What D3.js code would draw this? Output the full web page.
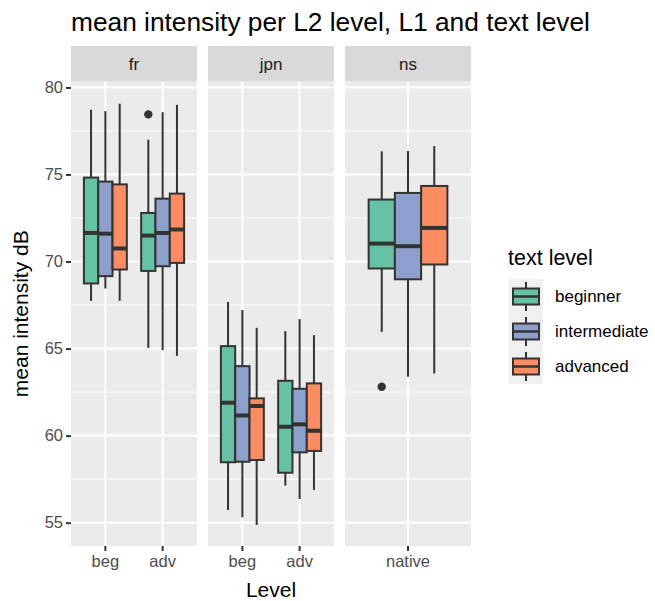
<!DOCTYPE html>
<html>
<head>
<meta charset="utf-8">
<script src="https://cdn.jsdelivr.net/npm/d3@7"></script>
<style>
  html, body { margin: 0; padding: 0; background: #ffffff; }
  svg { display: block; font-family: "Liberation Sans", Arial, sans-serif; }
</style>
</head>
<body>
<svg id="chart" width="655" height="601"></svg>
<script>
// Facets (L1) and the L2 levels shown inside each of them
const facets = ["fr", "jpn", "ns"];
const facetLevels = [["beg", "adv"], ["beg", "adv"], ["native"]];

// Text levels (fill groups) and their colours
const textLevels = ["beginner", "intermediate", "advanced"];
const textColours = ["#66C2A5", "#8DA0CB", "#FC8D62"];

// Box statistics: [L2 level, text level, lower whisker, Q1, median, Q3, upper whisker]
const statsFr = [
  ["beg", "beginner",     67.74, 68.74, 71.64, 74.82, 78.72],
  ["beg", "intermediate", 68.45, 69.16, 71.60, 74.59, 78.64],
  ["beg", "advanced",     67.74, 69.54, 70.75, 74.43, 79.06],
  ["adv", "beginner",     65.04, 69.46, 71.49, 72.79, 77.00],
  ["adv", "intermediate", 64.91, 69.73, 71.64, 73.61, 78.58],
  ["adv", "advanced",     64.58, 69.92, 71.84, 73.90, 79.00]
];
const statsJpn = [
  ["beg", "beginner",     55.73, 58.47, 61.89, 65.14, 67.68],
  ["beg", "intermediate", 55.31, 58.50, 61.16, 63.99, 67.21],
  ["beg", "advanced",     54.87, 58.60, 61.70, 62.14, 66.19],
  ["adv", "beginner",     57.13, 57.87, 60.51, 63.15, 66.00],
  ["adv", "intermediate", 56.36, 59.04, 60.65, 62.69, 66.69],
  ["adv", "advanced",     56.88, 59.12, 60.28, 63.00, 65.77]
];
const statsNs = [
  ["native", "beginner",     65.96, 69.60, 71.03, 73.56, 76.33],
  ["native", "intermediate", 63.38, 68.98, 70.88, 73.94, 76.35],
  ["native", "advanced",     63.57, 69.83, 71.93, 74.34, 76.63]
];
const facetStats = [statsFr, statsJpn, statsNs];

// Outliers: [facet, L2 level, text level, value]
const outliers = [
  ["fr", "adv", "beginner", 78.45],
  ["ns", "native", "beginner", 62.81]
];

// Y axis ticks
const yTicks = [55, 60, 65, 70, 75, 80];
const yMinorTicks = [57.5, 62.5, 67.5, 72.5, 77.5];

const titleText = "mean intensity per L2 level, L1 and text level";
const yTitle = "mean intensity dB";
const xTitle = "Level";
const legendTitle = "text level";

// ---- layout ----
const svg = d3.select("#chart");
const plotLeft = 71, plotRight = 471;
const panelTop = 81.5, panelBottom = 546;
const stripTop = 46;
const panelGap = 11;
const panelW = (plotRight - plotLeft - panelGap * (facets.length - 1)) / facets.length;

const y = d3.scaleLinear().domain([53.66, 80.34]).range([panelBottom, panelTop]);
const fill = d3.scaleOrdinal().domain(textLevels).range(textColours);

const ink = "#333333";

// Title
svg.append("text")
  .attr("x", plotLeft).attr("y", 31)
  .attr("font-size", 26.3).attr("fill", "#000")
  .text(titleText);

facets.forEach((facet, i) => {
  const x0 = plotLeft + i * (panelW + panelGap);
  const levels = facetLevels[i];
  // discrete positions with 0.6 units of padding on each side
  const x = d3.scaleBand().domain(levels).range([x0, x0 + panelW])
    .paddingInner(0).paddingOuter(0.1);
  const step = x.step();
  const dodge = d3.scaleBand().domain(textLevels).range([-0.375 * step, 0.375 * step]);
  const bw = dodge.bandwidth();

  const g = svg.append("g");

  // strip
  g.append("rect").attr("x", x0).attr("y", stripTop)
    .attr("width", panelW).attr("height", panelTop - stripTop).attr("fill", "#D9D9D9");
  g.append("text").attr("x", x0 + panelW / 2).attr("y", (stripTop + panelTop) / 2)
    .attr("dy", "0.35em").attr("text-anchor", "middle")
    .attr("font-size", 17).attr("fill", "#1A1A1A").text(facet);

  // panel background + grid
  g.append("rect").attr("x", x0).attr("y", panelTop)
    .attr("width", panelW).attr("height", panelBottom - panelTop).attr("fill", "#EBEBEB");
  g.selectAll(".minor").data(yMinorTicks).join("line")
    .attr("x1", x0).attr("x2", x0 + panelW)
    .attr("y1", d => y(d)).attr("y2", d => y(d))
    .attr("stroke", "#fff").attr("stroke-width", 1);
  g.selectAll(".major").data(yTicks).join("line")
    .attr("x1", x0).attr("x2", x0 + panelW)
    .attr("y1", d => y(d)).attr("y2", d => y(d))
    .attr("stroke", "#fff").attr("stroke-width", 2);
  g.selectAll(".vgrid").data(levels).join("line")
    .attr("x1", d => x(d) + step / 2).attr("x2", d => x(d) + step / 2)
    .attr("y1", panelTop).attr("y2", panelBottom)
    .attr("stroke", "#fff").attr("stroke-width", 2);

  // boxes
  const boxes = g.selectAll(".box").data(facetStats[i]).join("g")
    .attr("transform", d => `translate(${x(d[0]) + step / 2 + dodge(d[1])},0)`);
  boxes.append("line")
    .attr("x1", bw / 2).attr("x2", bw / 2)
    .attr("y1", d => y(d[2])).attr("y2", d => y(d[6]))
    .attr("stroke", ink).attr("stroke-width", 2);
  boxes.append("rect")
    .attr("x", 0).attr("width", bw)
    .attr("y", d => y(d[5])).attr("height", d => y(d[3]) - y(d[5]))
    .attr("fill", d => fill(d[1])).attr("stroke", ink).attr("stroke-width", 2);
  boxes.append("line")
    .attr("x1", 0).attr("x2", bw)
    .attr("y1", d => y(d[4])).attr("y2", d => y(d[4]))
    .attr("stroke", ink).attr("stroke-width", 4);

  // outliers
  g.selectAll(".out").data(outliers.filter(o => o[0] === facet)).join("circle")
    .attr("cx", d => x(d[1]) + step / 2 + dodge(d[2]) + bw / 2)
    .attr("cy", d => y(d[3])).attr("r", 4.2).attr("fill", ink);

  // x axis
  const xa = svg.append("g").attr("transform", `translate(0,${panelBottom})`)
    .call(d3.axisBottom(x).tickSize(5).tickPadding(4));
  xa.select(".domain").remove();
  xa.selectAll(".tick line").attr("stroke", "#333").attr("stroke-width", 2);
  xa.selectAll(".tick text").attr("fill", "#4D4D4D").attr("font-size", 16.5)
    .attr("font-family", "Liberation Sans, Arial, sans-serif");
});

// y axis
const ya = svg.append("g").attr("transform", `translate(${plotLeft},0)`)
  .call(d3.axisLeft(y).tickValues(yTicks).tickSize(5).tickPadding(3));
ya.select(".domain").remove();
ya.selectAll(".tick line").attr("stroke", "#333").attr("stroke-width", 2);
ya.selectAll(".tick text").attr("fill", "#4D4D4D").attr("font-size", 16.5)
  .attr("font-family", "Liberation Sans, Arial, sans-serif");

// axis titles
svg.append("text")
  .attr("transform", `translate(28,${(panelTop + panelBottom) / 2}) rotate(-90)`)
  .attr("text-anchor", "middle").attr("font-size", 21).attr("fill", "#000")
  .text(yTitle);
svg.append("text")
  .attr("x", (plotLeft + plotRight) / 2).attr("y", 597)
  .attr("text-anchor", "middle").attr("font-size", 21).attr("fill", "#000")
  .text(xTitle);

// legend
const lg = svg.append("g").attr("transform", "translate(508,0)");
lg.append("text").attr("x", 0).attr("y", 265)
  .attr("font-size", 21.5).attr("fill", "#000").text(legendTitle);
const keyH = 35, keyW = 34, keyTop = 279;
const keys = lg.selectAll(".key").data(textLevels).join("g")
  .attr("transform", (d, i) => `translate(0,${keyTop + i * keyH})`);
keys.append("rect").attr("x", 1).attr("y", 0).attr("width", keyW).attr("height", keyH)
  .attr("fill", "#F0F0F0");
keys.append("line").attr("x1", 1 + keyW / 2).attr("x2", 1 + keyW / 2)
  .attr("y1", 3).attr("y2", keyH - 3).attr("stroke", ink).attr("stroke-width", 2);
keys.append("rect").attr("x", 5).attr("width", keyW - 8)
  .attr("y", 9.5).attr("height", keyH - 19)
  .attr("fill", d => fill(d)).attr("stroke", ink).attr("stroke-width", 2);
keys.append("line").attr("x1", 5).attr("x2", keyW - 3)
  .attr("y1", keyH / 2).attr("y2", keyH / 2).attr("stroke", ink).attr("stroke-width", 2.5);
keys.append("text").attr("x", 47).attr("y", keyH / 2).attr("dy", "0.35em")
  .attr("font-size", 17).attr("fill", "#000").text(d => d);
</script>
</body>
</html>
